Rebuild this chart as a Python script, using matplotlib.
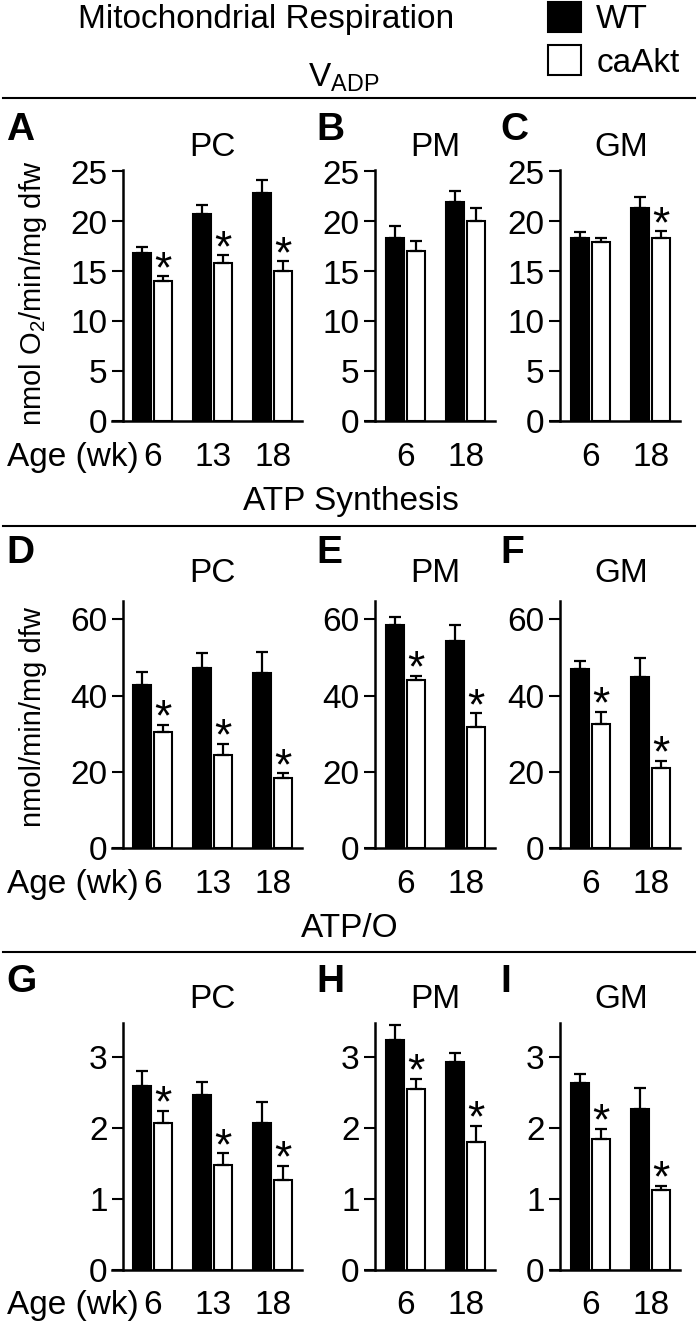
import matplotlib
matplotlib.use('Agg')
import matplotlib.pyplot as plt
import numpy as np
from matplotlib.patches import Patch
from matplotlib.lines import Line2D
import matplotlib.transforms as mtrans

plt.rcParams['font.family'] = ['Liberation Sans', 'DejaVu Sans']
plt.rcParams['mathtext.default'] = 'regular'

# ages (wk) per substrate
ages_pc = ['6', '13', '18']
ages_pm = ['6', '18']
ages_gm = ['6', '18']

# V_ADP (nmol O2/min/mg dfw)
vadp_pc_wt, vadp_pc_wt_err = [16.8, 20.7, 22.8], [0.6, 0.9, 1.3]
vadp_pc_ca, vadp_pc_ca_err = [14.0, 15.8, 15.0], [0.5, 0.8, 1.0]
vadp_pm_wt, vadp_pm_wt_err = [18.3, 21.9], [1.2, 1.2]
vadp_pm_ca, vadp_pm_ca_err = [17.0, 20.0], [1.0, 1.3]
vadp_gm_wt, vadp_gm_wt_err = [18.3, 21.3], [0.6, 1.1]
vadp_gm_ca, vadp_gm_ca_err = [17.9, 18.3], [0.4, 0.7]
vadp_pc_sig, vadp_pm_sig, vadp_gm_sig = [1, 1, 1], [0, 0], [0, 1]

# ATP synthesis (nmol/min/mg dfw)
atp_pc_wt, atp_pc_wt_err = [42.8, 47.2, 46.0], [3.3, 3.9, 5.3]
atp_pc_ca, atp_pc_ca_err = [30.4, 24.5, 18.3], [1.9, 2.8, 1.3]
atp_pm_wt, atp_pm_wt_err = [58.5, 54.3], [2.2, 4.2]
atp_pm_ca, atp_pm_ca_err = [44.0, 31.7], [1.1, 3.6]
atp_gm_wt, atp_gm_wt_err = [47.0, 44.9], [2.0, 5.0]
atp_gm_ca, atp_gm_ca_err = [32.6, 21.0], [3.1, 1.8]
atp_pc_sig, atp_pm_sig, atp_gm_sig = [1, 1, 1], [1, 1], [1, 1]

# ATP/O
po_pc_wt, po_pc_wt_err = [2.59, 2.47, 2.07], [0.21, 0.18, 0.29]
po_pc_ca, po_pc_ca_err = [2.07, 1.48, 1.27], [0.17, 0.16, 0.19]
po_pm_wt, po_pm_wt_err = [3.24, 2.93], [0.21, 0.12]
po_pm_ca, po_pm_ca_err = [2.55, 1.80], [0.14, 0.23]
po_gm_wt, po_gm_wt_err = [2.63, 2.27], [0.13, 0.29]
po_gm_ca, po_gm_ca_err = [1.84, 1.12], [0.15, 0.06]
po_pc_sig, po_pm_sig, po_gm_sig = [1, 1, 1], [1, 1], [1, 1]

W, H = 700, 1324
FS = 24


def fx(x):
    return x / W


def fy(y):
    return 1 - y / H


fig = plt.figure(figsize=(W / 100, H / 100), dpi=100)

# column x-extent (px) and y-spine offset; row y-extent (px), ylim, ticks
cols = [(112, 302, 11), (365, 495, 10), (550, 680, 10)]
rows = [(170, 421.5, 25.15, [0, 5, 10, 15, 20, 25], 156, 140),
        (601, 848, 64.8, [0, 20, 40, 60], 582, 563),
        (1023, 1269.5, 3.48, [0, 1, 2, 3], 1008, 992)]

panels = [
    [('A', 'PC', ages_pc, vadp_pc_wt, vadp_pc_wt_err, vadp_pc_ca, vadp_pc_ca_err, vadp_pc_sig),
     ('B', 'PM', ages_pm, vadp_pm_wt, vadp_pm_wt_err, vadp_pm_ca, vadp_pm_ca_err, vadp_pm_sig),
     ('C', 'GM', ages_gm, vadp_gm_wt, vadp_gm_wt_err, vadp_gm_ca, vadp_gm_ca_err, vadp_gm_sig)],
    [('D', 'PC', ages_pc, atp_pc_wt, atp_pc_wt_err, atp_pc_ca, atp_pc_ca_err, atp_pc_sig),
     ('E', 'PM', ages_pm, atp_pm_wt, atp_pm_wt_err, atp_pm_ca, atp_pm_ca_err, atp_pm_sig),
     ('F', 'GM', ages_gm, atp_gm_wt, atp_gm_wt_err, atp_gm_ca, atp_gm_ca_err, atp_gm_sig)],
    [('G', 'PC', ages_pc, po_pc_wt, po_pc_wt_err, po_pc_ca, po_pc_ca_err, po_pc_sig),
     ('H', 'PM', ages_pm, po_pm_wt, po_pm_wt_err, po_pm_ca, po_pm_ca_err, po_pm_sig),
     ('I', 'GM', ages_gm, po_gm_wt, po_gm_wt_err, po_gm_ca, po_gm_ca_err, po_gm_sig)],
]
letter_x = [6, 316, 500]

bw, off = 0.3, 0.175
ekw = dict(ecolor='black', elinewidth=1.6, capsize=4, capthick=1.6)

for r, (yt, yb, ytop, yticks, title_y, letter_y) in enumerate(rows):
    for c, (x0, x1, sp) in enumerate(cols):
        letter, sub, ages, wt, wt_err, ca, ca_err, sig = panels[r][c]
        ax = fig.add_axes([fx(x0), fy(yb), (x1 - x0) / W, (yb - yt) / H])
        ax.patch.set_visible(False)
        x = np.arange(len(ages))
        zeros = np.zeros(len(ages))
        ax.bar(x - off, wt, bw, color='black', edgecolor='black', lw=1.5,
               yerr=[zeros, wt_err], error_kw=ekw)
        ax.bar(x + off, ca, bw, color='white', edgecolor='black', lw=1.5,
               yerr=[zeros, ca_err], error_kw=ekw)
        for i, s in enumerate(sig):
            if s:
                ax.annotate('*', xy=(x[i] + off, ca[i] + ca_err[i]), xytext=(0, -4),
                            textcoords='offset points', ha='center', va='baseline',
                            fontsize=32)
        ax.set_xlim(-0.68, -0.68 + (x1 - x0) / 60)
        ax.set_ylim(0, ytop)
        ax.spines[['top', 'right']].set_visible(False)
        ax.spines['left'].set_position(('axes', sp / (x1 - x0)))
        for s in ['left', 'bottom']:
            ax.spines[s].set_linewidth(1.8)
        ax.set_yticks(yticks)
        ax.tick_params(axis='y', length=8, width=1.5, pad=3, labelsize=FS)
        ax.set_xticks(x, ages)
        ax.tick_params(axis='x', length=0, pad=15, labelsize=FS)
        if c == 0:
            ax.annotate('Age (wk)', xy=(-0.23, 0), xytext=(0, -15),
                        textcoords='offset points', ha='right', va='top', fontsize=FS)
        tr = mtrans.blended_transform_factory(ax.transData, fig.transFigure)
        ax.text(x.mean(), fy(title_y), sub, transform=tr, ha='center',
                va='baseline', fontsize=FS)
        fig.text(fx(letter_x[c]), fy(letter_y), letter, ha='left', va='baseline',
                 fontsize=FS + 4, fontweight='bold')

# y labels
fig.text(fx(33), fy(293), 'nmol O$_2$/min/mg dfw', rotation=90, ha='center',
         va='center', fontsize=21)
fig.text(fx(33), fy(717), 'nmol/min/mg dfw', rotation=90, ha='center',
         va='center', fontsize=21)

# section headers and separators
fig.text(fx(78), fy(28), 'Mitochondrial Respiration', ha='left', va='baseline', fontsize=FS)
fig.text(fx(344), fy(87), 'V$_{ADP}$', ha='center', va='baseline', fontsize=FS)
fig.text(fx(351), fy(510), 'ATP Synthesis', ha='center', va='baseline', fontsize=FS)
fig.text(fx(350), fy(937), 'ATP/O', ha='center', va='baseline', fontsize=FS)
for yl in [98, 526, 952]:
    fig.add_artist(Line2D([fx(3), fx(695)], [fy(yl), fy(yl)], color='black', lw=1.5))

fig.legend(handles=[Patch(facecolor='black', edgecolor='black', lw=1.5, label='WT'),
                    Patch(facecolor='white', edgecolor='black', lw=1.5, label='caAkt')],
           loc='upper left', bbox_to_anchor=(fx(548), fy(2)), frameon=False,
           fontsize=FS, handlelength=1.0, handleheight=1.0, handletextpad=0.45,
           labelspacing=0.3, borderpad=0, borderaxespad=0)

fig.savefig('out.png', dpi=100)
